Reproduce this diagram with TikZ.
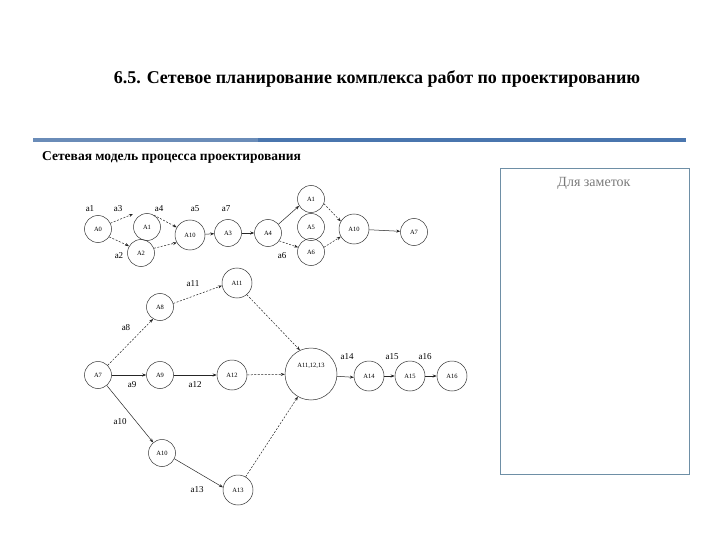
\documentclass[tikz,border=0pt]{standalone}
\usepackage{fontspec}
\setmainfont{Liberation Serif}
\usetikzlibrary{arrows.meta}
\definecolor{barblue}{HTML}{4A76AE}
\definecolor{barblue2}{HTML}{6A8CB8}
\definecolor{boxline}{HTML}{6E8FA6}
\definecolor{notegray}{HTML}{7A7A7A}
\tikzset{
  ev/.style={circle,draw=black!80,line width=0.5pt,inner sep=0pt,minimum size=27pt,font=\fontsize{6.5}{6.5}\selectfont},
  evb/.style={ev,minimum size=30pt},
  evbig/.style={ev,minimum size=52pt},
  lab/.style={font=\fontsize{9}{9}\selectfont,inner sep=0pt},
  arr/.style={-{Stealth[length=4pt,width=3pt]},line width=0.5pt,black!85},
  darr/.style={arr,dash pattern=on 2pt off 1.5pt}
}
\begin{document}
\begin{tikzpicture}[x=1pt,y=-1pt]
\useasboundingbox[fill=white] (0,0) rectangle (720,540);
% title
\node[font=\bfseries\fontsize{18}{18}\selectfont] (title) at (377,79) {6.5. Сетевое планирование комплекса работ по проектированию};
% bar
\fill[barblue2] (33,138) rectangle (258,142.5);
\fill[barblue] (258,138.5) rectangle (686,142.5);
\node[anchor=west,font=\bfseries\fontsize{13.5}{13.5}\selectfont,inner sep=0pt] (sub) at (42,157) {Сетевая модель процесса проектирования};
% notes box
\draw[boxline,line width=0.8pt] (500,168) rectangle (689,474);
\node[notegray,font=\fontsize{14}{14}\selectfont] (notes) at (594,183) {Для заметок};

% top network
\node[ev] (A0) at (98,229) {A0};
\node[ev] (A1) at (147,227) {A1};
\node[ev] (A2) at (141,253) {A2};
\node[evb] (A10) at (190,235) {A10};
\node[ev] (A3) at (228,233) {A3};
\node[ev] (A4) at (268,233) {A4};
\node[ev] (B1) at (311,199) {A1};
\node[ev] (B2) at (311,227) {A5};
\node[ev] (B3) at (311,252) {A6};
\node[evb] (B4) at (354,229) {A10};
\node[ev] (A7t) at (414,232) {A7};

\node[lab] (la1) at (90,209) {a1};
\node[lab] (la3) at (118,209) {a3};
\node[lab] (la4) at (159,209) {a4};
\node[lab] (la5) at (195,209) {a5};
\node[lab] (la7) at (226,209) {a7};
\node[lab] (la2) at (119,256) {a2};
\node[lab] (la6) at (282,256) {a6};

\coordinate (p1) at (133,214);
\draw[darr] (A0.25) -- (p1);
\draw[darr] (A0.-35) -- (A2.150);
\draw[darr] (A1.60) -- (A10.150);
\draw[darr] (A2.20) -- (A10.-150);
\draw[arr] (A10) -- (A3);
\draw[arr] (A3) -- (A4);
\draw[arr] (A4.40) -- (B1.-150);
\draw[darr] (A4.-35) -- (B3.160);
\draw[darr] (B1.-20) -- (B4.150);
\draw[darr] (B3.20) -- (B4.-150);
\draw[arr] (B4) -- (A7t);

% lower network
\node[ev] (C7) at (98,375) {A7};
\node[ev] (C8) at (160,307) {A8};
\node[evb] (C11) at (237,283) {A11};
\node[ev] (C9) at (160,375) {A9};
\node[evb] (C12) at (232,375) {A12};
\node[ev] (C10) at (162,453) {A10};
\node[evb] (C13) at (238,490) {A13};
\node[evbig] (BIG) at (311,374) {};
\node[font=\fontsize{6.5}{6.5}\selectfont,inner sep=0pt] (bigl) at (311,366) {A11,12,13};
\node[evb] (C14) at (369,376) {A14};
\node[evb] (C15) at (410,376) {A15};
\node[evb] (C16) at (452,376) {A16};

\node[lab] (l11) at (193,284) {a11};
\node[lab] (l8) at (126,328) {a8};
\node[lab] (l9) at (132,385) {a9};
\node[lab] (l12) at (195,385) {a12};
\node[lab] (l10) at (120,422) {a10};
\node[lab] (l13) at (197,490) {a13};
\node[lab] (l14) at (347,357) {a14};
\node[lab] (l15) at (392,357) {a15};
\node[lab] (l16) at (425,357) {a16};

\draw[darr] (C7.45) -- (C8.-120);
\draw[arr] (C7) -- (C9);
\draw[arr] (C7.-50) -- (C10.130);
\draw[darr] (C8.15) -- (C11.-170);
\draw[arr] (C9) -- (C12);
\draw[arr] (C10.-25) -- (C13.170);
\draw[darr] (C11.-50) -- (BIG.115);
\draw[darr] (C12) -- (BIG);
\draw[darr] (C13.60) -- (BIG.-120);
\draw[arr] (BIG.-5) -- (C14.-175);
\draw[arr] (C14) -- (C15);
\draw[arr] (C15) -- (C16);
\end{tikzpicture}
\end{document}
